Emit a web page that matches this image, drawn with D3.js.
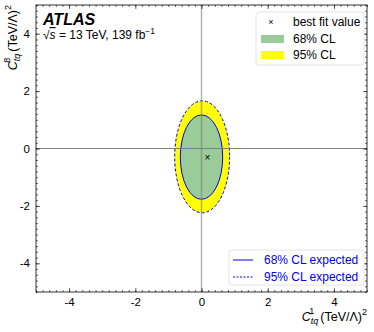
<!DOCTYPE html>
<html>
<head>
<meta charset="utf-8">
<script src="https://cdn.jsdelivr.net/npm/d3@7"></script>
<style>
  body { margin: 0; background: #fff; }
  svg { font-family: "Liberation Sans", Arial, sans-serif; }
</style>
</head>
<body>
<div id="chart"></div>
<script>
// Contour data (center, semi-axes)
const contourNames = ['95% CL', '68% CL'];
const contourCx = [0.02, 0.0];
const contourCy = [-0.29, -0.30];
const contourRx = [0.83, 0.64];
const contourRy = [1.95, 1.47];
const contourFill = ['#ffff00', '#99cc99'];
const contourDash = ['3,2', null];

const bestFit = [0.18, -0.31];
const majorTicks = [-4, -2, 0, 2, 4];

const margin = { top: 5, right: 7, bottom: 40, left: 36 };
const W = 374, H = 332;
const width = W - margin.left - margin.right;
const height = H - margin.top - margin.bottom;

const svg = d3.select('#chart')
  .append('svg')
  .attr('width', W)
  .attr('height', H);

const g = svg.append('g')
  .attr('transform', `translate(${margin.left},${margin.top})`);

const x = d3.scaleLinear().domain([-5, 5]).range([0, width]);
const y = d3.scaleLinear().domain([-5, 5]).range([height, 0]);

// filled contours
contourNames.forEach((name, i) => {
  g.append('ellipse')
    .attr('cx', x(contourCx[i]))
    .attr('cy', y(contourCy[i]))
    .attr('rx', x(contourCx[i] + contourRx[i]) - x(contourCx[i]))
    .attr('ry', y(contourCy[i]) - y(contourCy[i] + contourRy[i]))
    .attr('fill', contourFill[i]);
});

// expected contours (blue)
contourNames.forEach((name, i) => {
  g.append('ellipse')
    .attr('cx', x(contourCx[i]))
    .attr('cy', y(contourCy[i]))
    .attr('rx', x(contourCx[i] + contourRx[i]) - x(contourCx[i]))
    .attr('ry', y(contourCy[i]) - y(contourCy[i] + contourRy[i]))
    .attr('fill', 'none')
    .attr('stroke', '#0000ee')
    .attr('stroke-width', 1)
    .attr('stroke-dasharray', contourDash[i]);
});

// zero lines
g.append('line')
  .attr('x1', 0).attr('x2', width)
  .attr('y1', y(0)).attr('y2', y(0))
  .attr('stroke', '#808080').attr('stroke-width', 1);
g.append('line')
  .attr('x1', x(0)).attr('x2', x(0))
  .attr('y1', 0).attr('y2', height)
  .attr('stroke', '#808080').attr('stroke-opacity', 0.6).attr('stroke-width', 1.5);

// best fit marker
g.append('text')
  .attr('x', x(bestFit[0]))
  .attr('y', y(bestFit[1]))
  .attr('text-anchor', 'middle')
  .attr('dominant-baseline', 'central')
  .attr('font-size', 10)
  .text('×');

// axes with inward ticks on all sides
const minor = d3.range(-5, 5.001, 0.2).map(v => +v.toFixed(1));
function addAxis(axisFn, scale, transform, labels) {
  const ax = g.append('g').attr('transform', transform);
  ax.call(axisFn(scale).tickValues(minor).tickSize(-2).tickFormat(''));
  const maj = g.append('g').attr('transform', transform);
  maj.call(axisFn(scale).tickValues(majorTicks).tickSize(-4).tickPadding(6)
    .tickFormat(labels ? (d => String(d)) : ''));
  [ax, maj].forEach(a => {
    a.select('.domain').remove();
    a.selectAll('line').attr('stroke', '#000').attr('stroke-width', 0.6);
    a.selectAll('text').attr('font-size', 11.5).attr('fill', '#000')
      .attr('font-family', '"Liberation Sans", Arial, sans-serif');
  });
  return maj;
}
addAxis(d3.axisBottom, x, `translate(0,${height})`, true);
addAxis(d3.axisTop, x, 'translate(0,0)', false);
addAxis(d3.axisLeft, y, 'translate(0,0)', true);
addAxis(d3.axisRight, y, `translate(${width},0)`, false);

g.append('rect')
  .attr('width', width).attr('height', height)
  .attr('fill', 'none').attr('stroke', '#000').attr('stroke-width', 0.8);

// ATLAS label
g.append('text')
  .attr('x', 7).attr('y', 20)
  .attr('font-size', 16).attr('font-weight', 'bold').attr('font-style', 'italic')
  .text('ATLAS');
const lumi = g.append('text').attr('x', 7).attr('y', 34).attr('font-size', 12);
lumi.append('tspan').text('√');
lumi.append('tspan').attr('font-style', 'italic').style('text-decoration', 'overline').text('s');
lumi.append('tspan').text(' = 13 TeV, 139 fb');
lumi.append('tspan').attr('dy', -5).attr('font-size', 8.5).text('−1');

// legend 1
const leg1 = g.append('g').attr('transform', `translate(${width - 111},7)`);
leg1.append('rect').attr('width', 108).attr('height', 53).attr('rx', 3)
  .attr('fill', '#fff').attr('stroke', '#ddd').attr('stroke-width', 0.8);
leg1.append('text').attr('x', 15).attr('y', 10).attr('text-anchor', 'middle')
  .attr('dominant-baseline', 'central').attr('font-size', 9).text('×');
leg1.append('text').attr('x', 37).attr('y', 14).attr('font-size', 12).text('best fit value');
[contourNames[1], contourNames[0]].forEach((name, i) => {
  const idx = contourNames.indexOf(name);
  leg1.append('rect').attr('x', 5).attr('y', 23 + i * 16).attr('width', 23).attr('height', 8)
    .attr('fill', contourFill[idx]);
  leg1.append('text').attr('x', 37).attr('y', 31 + i * 16).attr('font-size', 12).text(name);
});

// legend 2
const leg2 = g.append('g').attr('transform', `translate(${width - 138},245)`);
leg2.append('rect').attr('width', 135).attr('height', 35).attr('rx', 3)
  .attr('fill', '#fff').attr('stroke', '#ddd').attr('stroke-width', 0.8);
[contourNames[1], contourNames[0]].forEach((name, i) => {
  const idx = contourNames.indexOf(name);
  leg2.append('line').attr('x1', 4).attr('x2', 24)
    .attr('y1', 10 + i * 17).attr('y2', 10 + i * 17)
    .attr('stroke', '#0000ee').attr('stroke-width', 1)
    .attr('stroke-dasharray', contourDash[idx] ? '2,1.5' : null);
  leg2.append('text').attr('x', 35).attr('y', 14 + i * 17).attr('font-size', 12)
    .attr('fill', '#0000ee').text(name + ' expected');
});

// axis titles
const xl = svg.append('text')
  .attr('x', margin.left + width).attr('y', 321)
  .attr('text-anchor', 'end').attr('font-size', 12.5);
xl.append('tspan').attr('font-style', 'italic').text('C');
xl.append('tspan').attr('font-style', 'italic').attr('font-size', 9).attr('dy', 3).text('tq');
xl.append('tspan').attr('font-size', 9).attr('dy', -10).attr('dx', -9).text('1');
xl.append('tspan').attr('dy', 7).attr('dx', 6).text('(TeV/Λ)');
xl.append('tspan').attr('font-size', 9).attr('dy', -6).text('2');

const yl = svg.append('text')
  .attr('transform', `translate(17,${margin.top}) rotate(-90)`)
  .attr('text-anchor', 'end').attr('font-size', 12.5);
yl.append('tspan').attr('font-style', 'italic').text('C');
yl.append('tspan').attr('font-style', 'italic').attr('font-size', 9).attr('dy', 3).text('tq');
yl.append('tspan').attr('font-size', 9).attr('dy', -10).attr('dx', -9).text('8');
yl.append('tspan').attr('dy', 7).attr('dx', 6).text('(TeV/Λ)');
yl.append('tspan').attr('font-size', 9).attr('dy', -6).text('2');
</script>
</body>
</html>
